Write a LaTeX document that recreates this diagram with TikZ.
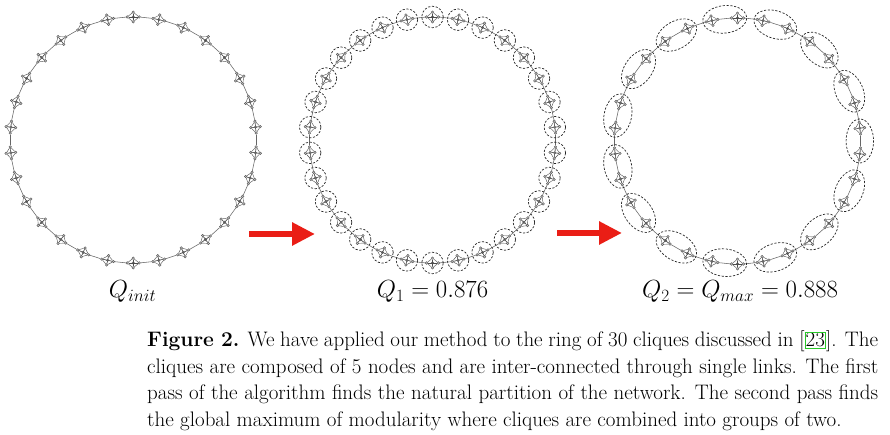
\documentclass[tikz,border=0pt]{standalone}
\usetikzlibrary{shapes.geometric,arrows.meta,calc}
\definecolor{arrred}{RGB}{234,30,22}
\definecolor{citegreen}{RGB}{40,200,40}
\tikzset{
  vtx/.style={circle, inner sep=0pt, minimum size=2.6bp, draw=black!70, line width=0.35bp, fill=black!25},
  cedge/.style={draw=black!70, line width=0.4bp},
  rlink/.style={draw=black!60, line width=0.55bp},
  grp/.style={draw=black!85, line width=0.7bp, dash pattern=on 2.2bp off 1.6bp, inner sep=0pt},
  bigarrow/.style={draw=arrred, line width=6bp, -{Triangle[length=23bp,width=22bp]}},
  qlabel/.style={font=\fontsize{25.5bp}{30bp}\selectfont, anchor=base, inner sep=0pt},
  capline/.style={font=\fontsize{21bp}{26.5bp}\selectfont, anchor=base west, inner sep=0pt},
}
\newcommand\mkclique[4]{% #1 name prefix, #2 cx, #3 cy, #4 angle
  \pgfmathsetmacro\px{#2+123*cos(#4)}%
  \pgfmathsetmacro\py{#3+123*sin(#4)}%
  \pgfmathsetmacro\ax{\px+6*sin(#4)}%
  \pgfmathsetmacro\ay{\py-6*cos(#4)}%
  \pgfmathsetmacro\bx{\px-6*sin(#4)}%
  \pgfmathsetmacro\by{\py+6*cos(#4)}%
  \pgfmathsetmacro\cx{\px+4.8*cos(#4)}%
  \pgfmathsetmacro\cy{\py+4.8*sin(#4)}%
  \pgfmathsetmacro\dx{\px-4.8*cos(#4)}%
  \pgfmathsetmacro\dy{\py-4.8*sin(#4)}%
  \node[vtx] (#1a) at (\ax,\ay) {};
  \node[vtx] (#1b) at (\bx,\by) {};
  \node[vtx] (#1c) at (\cx,\cy) {};
  \node[vtx] (#1d) at (\dx,\dy) {};
  \node[vtx] (#1e) at (\px,\py) {};
  \foreach \u/\v in {a/b,a/c,a/d,a/e,b/c,b/d,b/e,c/d,c/e,d/e}
    \draw[cedge] (#1\u) -- (#1\v);
}
\newcommand\citebox[1]{{\fboxsep=0.4bp\fboxrule=0.8bp\fcolorbox{citegreen}{white}{#1}}}
\begin{document}
\begin{tikzpicture}[x=1bp,y=1bp]
\useasboundingbox (0,0) rectangle (890,435);
\fill[white] (0,0) rectangle (890,435);
% ---- rings of cliques
\foreach \r/\ccx/\ccy in {1/133.2/295, 2/432.5/295, 3/737.5/294} {
  \foreach \k in {0,...,29} {
    \pgfmathsetmacro\ang{90+12*\k}
    \mkclique{r\r k\k}{\ccx}{\ccy}{\ang}
  }
  \foreach \k in {0,...,29} {
    \pgfmathtruncatemacro\nk{mod(\k+1,30)}
    \draw[rlink] (r\r k\k b) -- (r\r k\nk a);
  }
}
% ---- ring 2 groups: one clique each
\foreach \k in {0,...,29}
  \node[grp, circle, minimum size=21.5bp] (r2g\k) at (r2k\k e.center) {};
% ---- ring 3 groups: two cliques each
\foreach \j in {0,...,14} {
  \pgfmathtruncatemacro\ka{2*\j}
  \pgfmathtruncatemacro\kb{2*\j+1}
  \pgfmathsetmacro\rot{90+24*\j+6+90}
  \node[grp, ellipse, minimum width=44bp, minimum height=27.5bp, rotate=\rot]
    (r3g\j) at ($(r3k\ka e.center)!0.5!(r3k\kb e.center)$) {};
}
% ---- arrows
\coordinate (a1s) at (249,201);
\coordinate (a1e) at (315,201);
\coordinate (a2s) at (557,202);
\coordinate (a2e) at (622,202);
\draw[bigarrow] (a1s) -- (a1e);
\draw[bigarrow] (a2s) -- (a2e);
% ---- labels
\node[qlabel] (q0) at (132.5,137) {$Q_{init}$};
\node[qlabel] (q1) at (432.5,137) {$Q_1 = 0.876$};
\node[qlabel] (q2) at (740,137) {$Q_2 = Q_{max} = 0.888$};
% ---- caption
\node[capline] (c1) at (147,88) {\makebox[731bp][s]{\textbf{Figure 2.} We have applied our method to the ring of 30 cliques discussed in [\citebox{23}]. The}};
\node[capline] (c2) at (147,61.5) {\makebox[731bp][s]{cliques are composed of 5 nodes and are inter-connected through single links. The first}};
\node[capline] (c3) at (147,35) {\makebox[731bp][s]{pass of the algorithm finds the natural partition of the network. The second pass finds}};
\node[capline] (c4) at (147,8.5) {the global maximum of modularity where cliques are combined into groups of two.};
\end{tikzpicture}
\end{document}
